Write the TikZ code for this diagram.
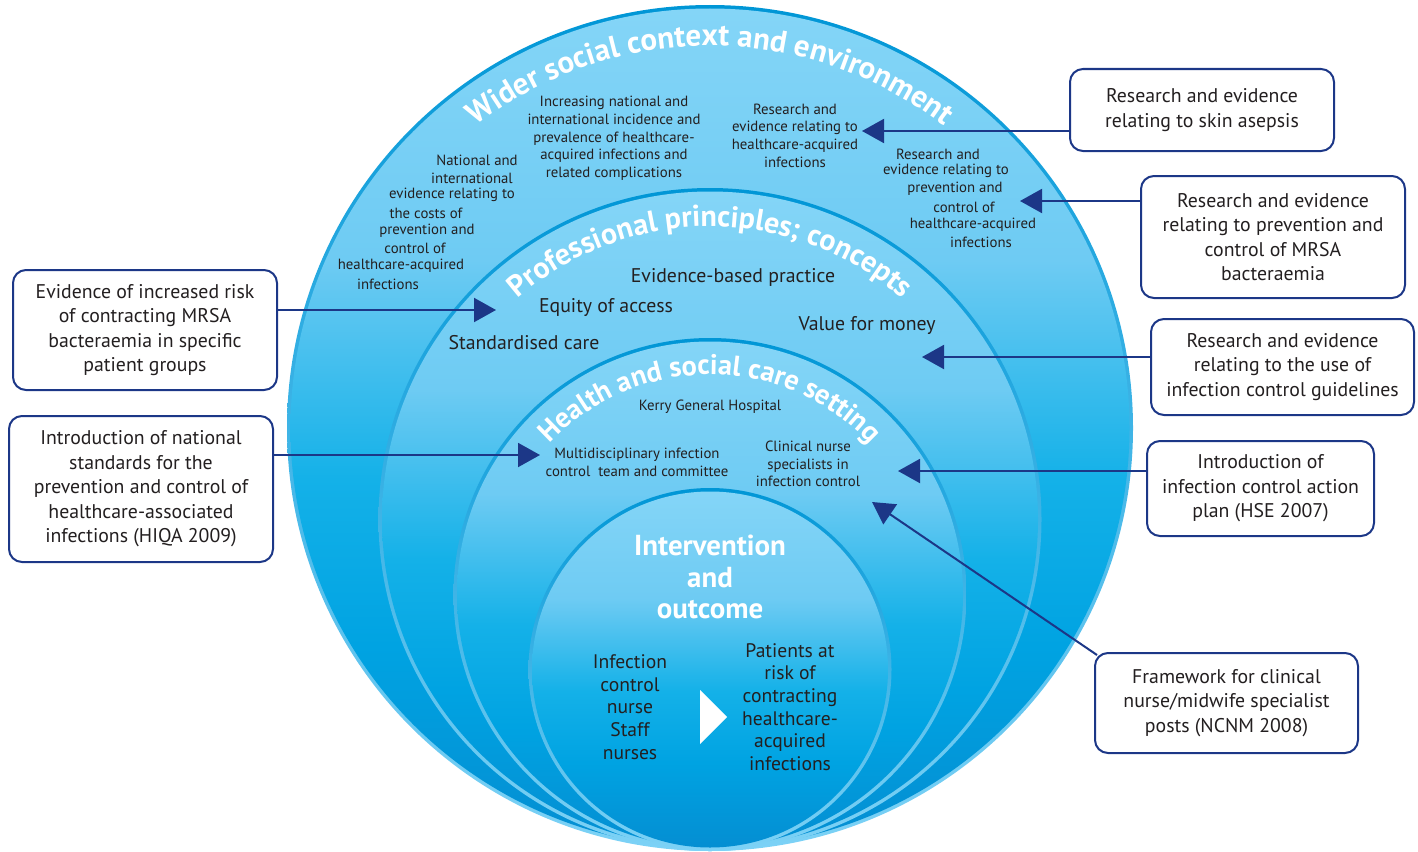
\documentclass[tikz,border=0pt]{standalone}
\usepackage{fontspec}
\setmainfont{PT Sans}
\usetikzlibrary{arrows.meta, decorations.text}

\definecolor{boxblue}{RGB}{28,55,135}
\definecolor{inktext}{RGB}{35,31,32}
\definecolor{filltop}{RGB}{132,213,247}
\definecolor{fillhi}{RGB}{110,203,243}
\definecolor{fillmid}{RGB}{20,177,232}
\definecolor{filllow}{RGB}{0,163,226}
\definecolor{fillbot}{RGB}{4,142,210}
\definecolor{ringtop}{RGB}{0,150,214}
\definecolor{ringbot}{RGB}{125,210,246}

\pgfdeclareverticalshading{discfill}{100bp}{color(0bp)=(fillbot); color(25bp)=(fillbot); color(37bp)=(filllow); color(47bp)=(fillmid); color(60bp)=(fillhi); color(75bp)=(filltop); color(100bp)=(filltop)}

\newcommand\ringtitle[1]{\fontsize{#1}{#1}\selectfont\bfseries}

\tikzset{
  evidence/.style={draw=boxblue, line width=2pt, rounded corners=13pt, fill=white, text=inktext, align=center, inner sep=0pt, font=\fontsize{19.8}{24.5}\selectfont},
  feed/.style={draw=boxblue, line width=2pt, -{Triangle[length=22pt, width=24pt]}},
  ringnote/.style={text=inktext, align=center, inner sep=0pt, font=\fontsize{14.8}{17.7}\selectfont},
  concept/.style={text=inktext, inner sep=0pt, font=\fontsize{19.8}{22}\selectfont},
  inner/.style={text=inktext, align=center, inner sep=0pt, font=\fontsize{19.6}{22.6}\selectfont},
}

\begin{document}
\begin{tikzpicture}[x=1pt, y=1pt]
\useasboundingbox (0,0) rectangle (1418,-851);

% nested discs, all touching at the bottom
\shade[top color=ringtop, bottom color=ringbot] (710,-428) circle[radius=423];
\shade[shading=discfill] (710,-428) circle[radius=419.5];
\shade[top color=ringtop, bottom color=ringbot] (710,-519.5) circle[radius=331.5];
\shade[shading=discfill] (710,-519.5) circle[radius=328];
\shade[top color=ringtop, bottom color=ringbot] (710,-594.5) circle[radius=256.5];
\shade[shading=discfill] (710,-594.5) circle[radius=253];
\shade[top color=ringtop, bottom color=ringbot] (710,-669.5) circle[radius=181.5];
\shade[shading=discfill] (710,-669.5) circle[radius=178];

% ring titles
\path[decorate, decoration={text along path, text align=center, text color=white, text={|\ringtitle{31}|Wider social context and environment}}]
  ({710+382*cos(170)},{-428+382*sin(170)}) arc[start angle=170, end angle=10, radius=382];
\path[decorate, decoration={text along path, text align=center, text color=white, text={|\ringtitle{30}|Professional principles; concepts}}]
  ({710+293*cos(170)},{-519.5+293*sin(170)}) arc[start angle=170, end angle=10, radius=293];
\path[decorate, decoration={text along path, text align=center, text color=white, text={|\ringtitle{28.4}|Health and social care setting}}]
  ({710+220*cos(170)},{-594.5+220*sin(170)}) arc[start angle=170, end angle=10, radius=220];

% wider social context
\node[ringnote] (incidence) at (614,-138.5) {Increasing national and\\international incidence and\\prevalence of healthcare-\\acquired infections and\\related complications};
\node[ringnote] (hcai) at (795,-135.5) {Research and\\evidence relating to\\healthcare-acquired\\infections};

\node[ringnote] (cost1) at (477,-160) {National and};
\node[ringnote] (cost2) at (472,-178) {international};
\node[ringnote] (cost3) at (452,-195) {evidence relating to};
\node[ringnote] (cost4) at (426,-213) {the costs of};
\node[ringnote] (cost5) at (427,-231) {prevention and};
\node[ringnote] (cost6) at (415,-248) {control of};
\node[ringnote] (cost7) at (401,-266) {healthcare-acquired};
\node[ringnote] (cost8) at (388,-284) {infections};

\node[ringnote] (prev1) at (938,-154) {Research and};
\node[ringnote] (prev2) at (946,-171) {evidence relating to};
\node[ringnote] (prev3) at (955,-189) {prevention and};
\node[ringnote] (prev4) at (964,-207) {control of};
\node[ringnote] (prev5) at (973,-225) {healthcare-acquired};
\node[ringnote] (prev6) at (981,-242) {infections};

% professional principles
\node[concept] (ebp) at (733,-277) {Evidence-based practice};
\node[concept] (equity) at (606,-308) {Equity of access};
\node[concept] (value) at (867,-326) {Value for money};
\node[concept] (standard) at (524,-343) {Standardised care};

% health and social care setting
\node[ringnote] (kerry) at (710,-407) {Kerry General Hospital};
\node[ringnote] (team) at (637,-462) {Multidisciplinary infection\\control\ \ team and committee};
\node[ringnote] (cns) at (808,-464) {Clinical nurse\\specialists in\\infection control};

% intervention and outcome
\node[text=white, align=center, inner sep=0pt, font=\fontsize{28.9}{31.5}\selectfont\bfseries] (outcome) at (710,-577) {Intervention\\and\\outcome};
\node[inner] (nurses) at (630,-707) {Infection\\control\\nurse\\Staff\\nurses};
\node[inner] (patients) at (790,-707) {Patients at\\risk of\\contracting\\healthcare-\\acquired\\infections};
\fill[white] (700,-690) -- (727,-717) -- (700,-744) -- cycle;

% evidence boxes
\node[evidence, minimum width=264, minimum height=120] (risk) at (145,-330) {Evidence of increased risk\\of contracting MRSA\\bacteraemia in specific\\patient groups};
\node[evidence, minimum width=264, minimum height=146] (hiqa) at (141,-489) {Introduction of national\\standards for the\\prevention and control of\\healthcare-associated\\infections (HIQA 2009)};
\node[evidence, minimum width=264, minimum height=82] (skin) at (1202,-110) {Research and evidence\\relating to skin asepsis};
\node[evidence, minimum width=264, minimum height=122] (mrsa) at (1273,-237) {Research and evidence\\relating to prevention and\\control of MRSA\\bacteraemia};
\node[evidence, minimum width=263, minimum height=96] (guide) at (1282.5,-367) {Research and evidence\\relating to the use of\\infection control guidelines};
\node[evidence, minimum width=227, minimum height=95] (plan) at (1260.5,-488.5) {Introduction of\\infection control action\\plan (HSE 2007)};
\node[evidence, minimum width=263, minimum height=100] (frame) at (1226.5,-703) {Framework for clinical\\nurse/midwife specialist\\posts (NCNM 2008)};

% arrow tips
\coordinate (trisk) at (496,-310);
\coordinate (thiqa) at (540,-455);
\coordinate (tskin) at (862,-131);
\coordinate (tmrsa) at (1020,-201);
\coordinate (tguide) at (922,-357);
\coordinate (tplan) at (898,-471);
\coordinate (tframe) at (872,-502);

\draw[feed] (risk.east |- trisk) -- (trisk);
\draw[feed] (hiqa.east |- thiqa) -- (thiqa);
\draw[feed] (skin.west |- tskin) -- (tskin);
\draw[feed] (mrsa.west |- tmrsa) -- (tmrsa);
\draw[feed] (guide.west |- tguide) -- (tguide);
\draw[feed] (plan.west |- tplan) -- (tplan);
\draw[feed] ([xshift=3pt, yshift=-3pt]frame.north west) -- (tframe);

\end{tikzpicture}
\end{document}
